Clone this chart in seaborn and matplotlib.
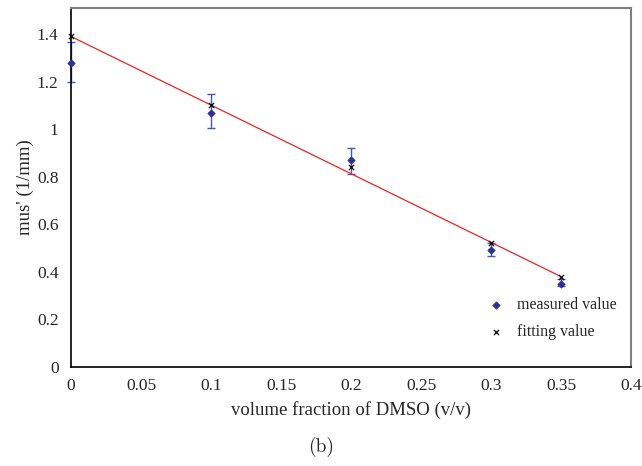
import matplotlib
matplotlib.use("Agg")
import matplotlib.pyplot as plt
import seaborn as sns
import pandas as pd
import numpy as np

x_vals = [0.0, 0.1, 0.2, 0.3, 0.35]
measured = [1.28, 1.07, 0.87, 0.49, 0.35]
err_low = [1.20, 1.005, 0.81, 0.465, 0.34]
err_high = [1.365, 1.15, 0.92, 0.52, 0.37]
fitting = [1.39, 1.10, 0.84, 0.52, 0.38]
xticks = [0, 0.05, 0.1, 0.15, 0.2, 0.25, 0.3, 0.35, 0.4]
xticklabels = ["0", "0.05", "0.1", "0.15", "0.2", "0.25", "0.3", "0.35", "0.4"]
yticks = [0, 0.2, 0.4, 0.6, 0.8, 1, 1.2, 1.4]
yticklabels = ["0", "0.2", "0.4", "0.6", "0.8", "1", "1.2", "1.4"]

sns.set_theme(style="white")
plt.rcParams['font.family'] = ['Liberation Serif', 'DejaVu Serif']

df = pd.DataFrame({"x": x_vals, "measured": measured, "fitting": fitting})
line_df = pd.DataFrame({"x": [x_vals[0], x_vals[-1]], "y": [fitting[0], fitting[-1]]})

fig = plt.figure(figsize=(6.42, 4.66), dpi=100)
ax = fig.add_axes([0.1106, 0.2124, 0.8724, 0.7706])

blue = "#2b2f9a"
yerr = [np.array(measured) - np.array(err_low), np.array(err_high) - np.array(measured)]
eb = ax.errorbar(x_vals, measured, yerr=yerr, fmt="none", ecolor="#4a55b8", elinewidth=1.0,
                 capsize=3, capthick=1.0, zorder=2)
for art in list(eb.lines[1]) + list(eb.lines[2]):
    art.set_clip_on(False)
sns.lineplot(data=line_df, x="x", y="y", color="#ee2222", linewidth=0.9, ax=ax, zorder=3)
sns.scatterplot(data=df, x="x", y="measured", marker="D", s=14, color=blue,
                edgecolor=blue, linewidth=0.5, ax=ax, zorder=4, label="measured value",
                clip_on=False)
sns.scatterplot(data=df, x="x", y="fitting", marker="x", s=14, color="black",
                linewidth=0.9, ax=ax, zorder=5, label="fitting value", clip_on=False)

ax.set_xlim(0, 0.4)
ax.set_ylim(0, 1.51)
ax.set_xticks(xticks)
ax.set_xticklabels(xticklabels, fontsize=12.5)
ax.set_yticks(yticks)
ax.set_yticklabels(yticklabels, fontsize=12.5)
ax.tick_params(axis="x", direction="in", length=5, width=1, color="black", pad=8)
ax.tick_params(axis="y", direction="in", length=5, width=1, color="black", pad=9)
ax.set_xlabel("volume fraction of DMSO (v/v)", fontsize=13.5, labelpad=5)
ax.set_ylabel("mus' (1/mm)", fontsize=13.5, labelpad=2)

for side in ["left", "bottom"]:
    ax.spines[side].set_color("black")
    ax.spines[side].set_linewidth(1.2)
for side in ["top", "right"]:
    ax.spines[side].set_color("#7f7f7f")
    ax.spines[side].set_linewidth(1.5)

leg = ax.legend(loc="lower right", bbox_to_anchor=(1.0, 0.035), frameon=False,
                fontsize=11.5, handletextpad=0.3, labelspacing=0.7, markerscale=1.0)

fig.text(0.5, 0.02, "(b)", ha="center", va="bottom", fontsize=14, family=["cmr10", "DejaVu Serif"])

fig.savefig("out.png", dpi=100)
